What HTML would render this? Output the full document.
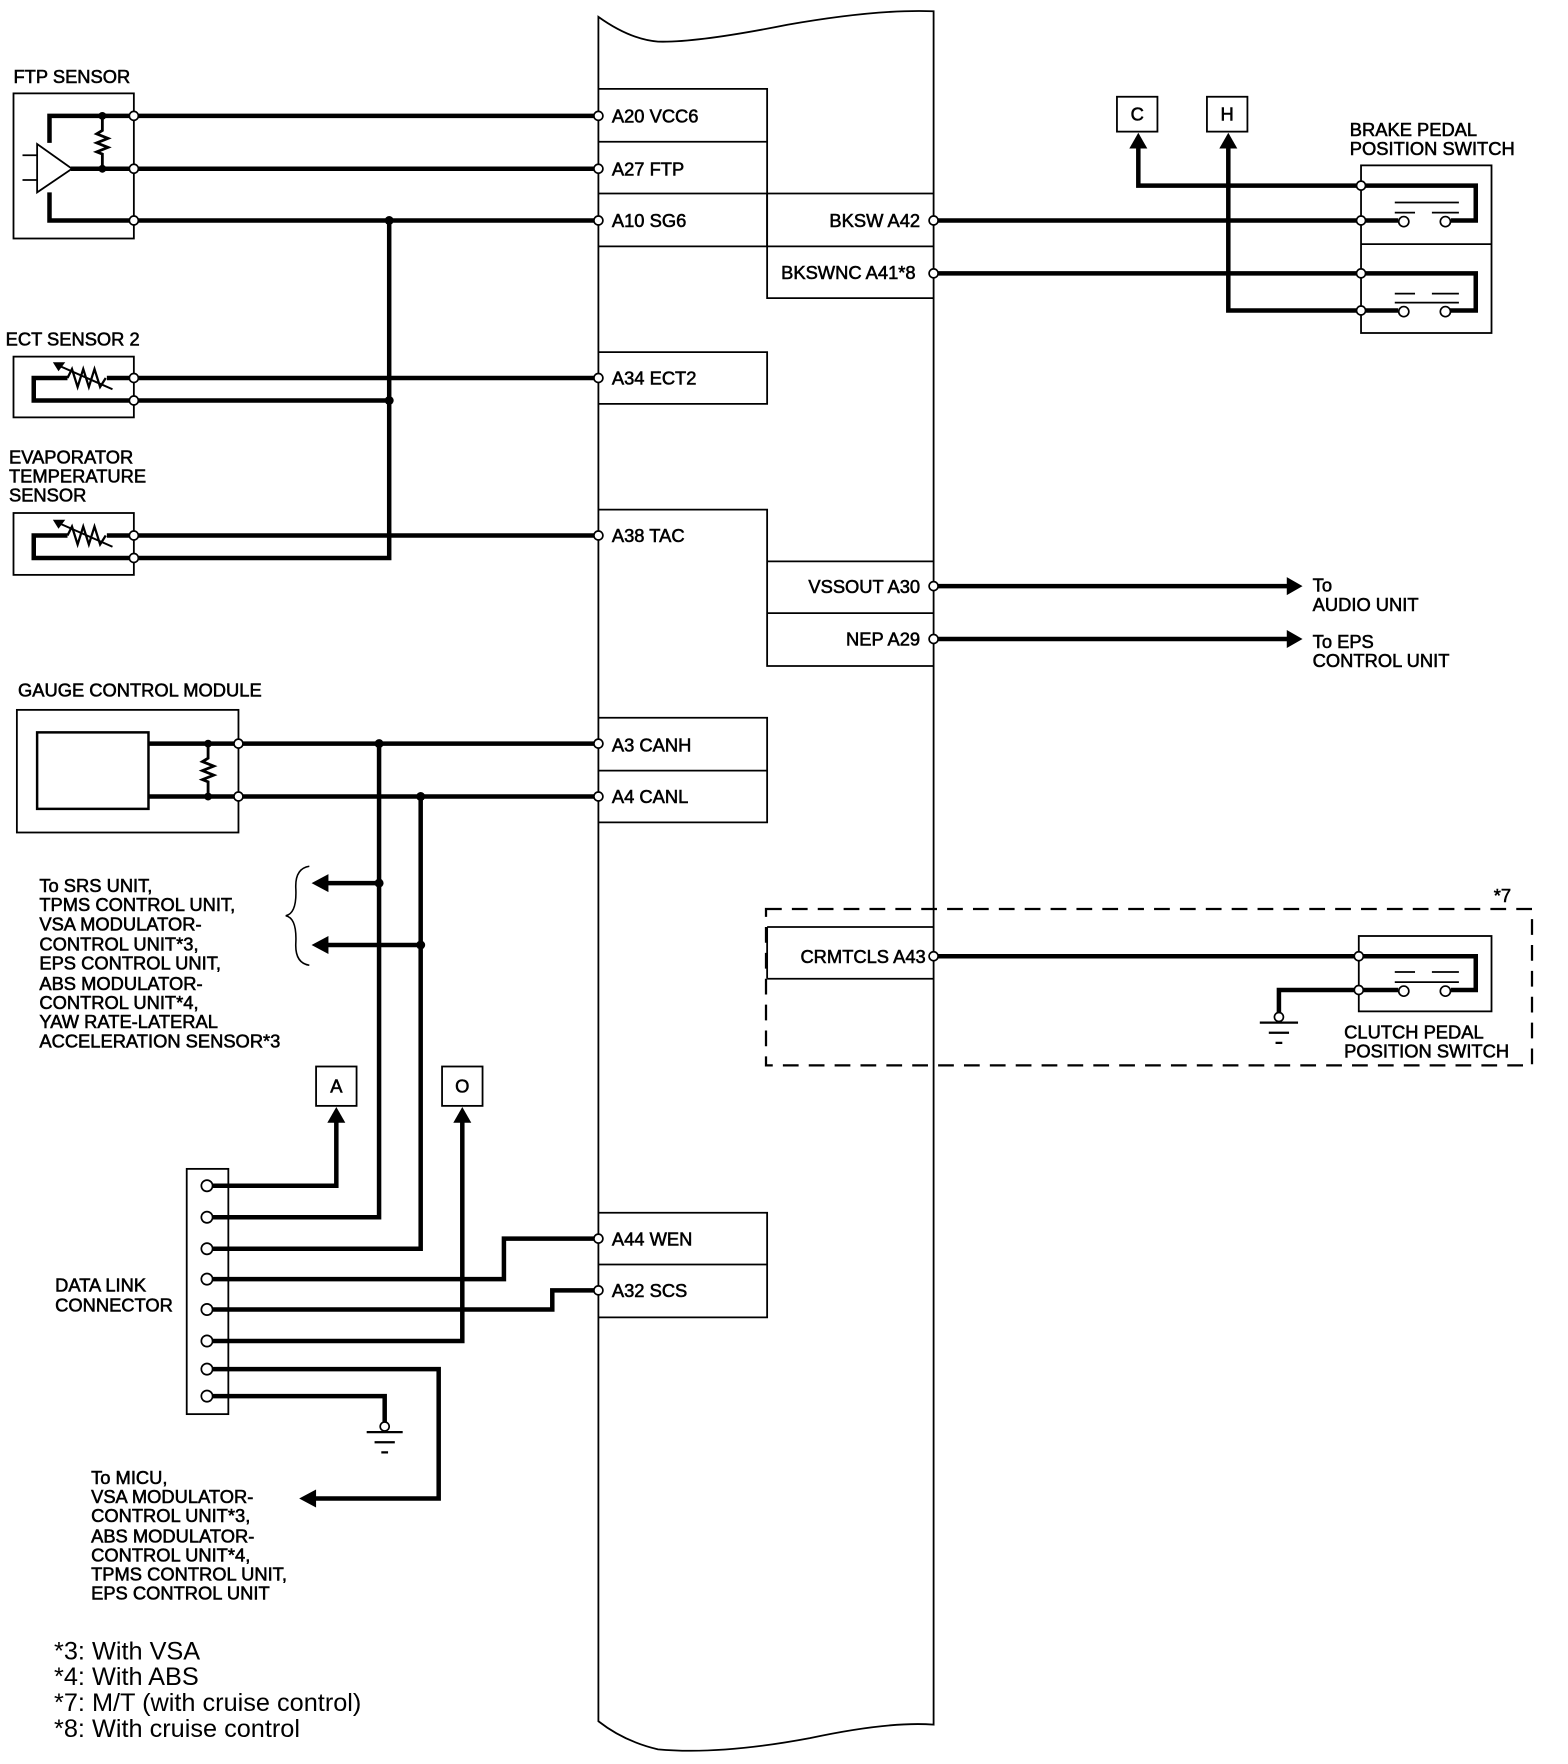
<!DOCTYPE html>
<html><head><meta charset="utf-8"><style>
html,body{margin:0;padding:0;background:#fff;}
svg{display:block}
text{font-family:"Liberation Sans",sans-serif;font-size:16.3px;fill:#000;stroke:#000;stroke-width:0.5}
.fn{font-size:22.5px;stroke-width:0}
.w{stroke:#000;stroke-width:4;fill:none}
.t{stroke:#000;stroke-width:1.6;fill:none}
.p{fill:#fff;stroke:#000;stroke-width:1.5}
.d{fill:#000}
</style></head><body>
<svg width="1568" height="1764" viewBox="0 0 1394 1568" preserveAspectRatio="none" xmlns="http://www.w3.org/2000/svg">
<!-- ECM body -->
<path class="t" d="M532,15 Q560,35 585,37 Q620,38 700,22 Q780,8 830,10 L830,1533 Q790,1530 720,1545 Q640,1560 585,1555 Q555,1548 532,1530 Z"/>
<!-- left pin boxes -->
<path class="t" d="M532,79 H682 V219 M532,126 H682 M532,172 H830 M532,219 H682"/>
<path class="t" d="M682,172 V265 H830 M682,219 H830"/>
<path class="t" d="M532,313 H682 V359 H532"/>
<path class="t" d="M532,453 H682 V499 H830 M682,499 V592 H830 M682,545 H830"/>
<path class="t" d="M532,638 H682 V731 H532 M532,685 H682"/>
<path class="t" d="M532,1078 H682 V1171 H532 M532,1124 H682"/>
<path class="t" d="M682,824 V870 M682,824 H830 M682,870 H830"/>
<!-- labels in ECM -->
<text x="544" y="109">A20 VCC6</text>
<text x="544" y="156">A27 FTP</text>
<text x="544" y="202">A10 SG6</text>
<text x="544" y="342">A34 ECT2</text>
<text x="544" y="482">A38 TAC</text>
<text x="544" y="668">A3 CANH</text>
<text x="544" y="714">A4 CANL</text>
<text x="544" y="1107">A44 WEN</text>
<text x="544" y="1153">A32 SCS</text>
<text x="818" y="202" text-anchor="end">BKSW A42</text>
<text x="814" y="248" text-anchor="end">BKSWNC A41*8</text>
<text x="818" y="527" text-anchor="end">VSSOUT A30</text>
<text x="818" y="574" text-anchor="end">NEP A29</text>
<text x="823" y="856" text-anchor="end">CRMTCLS A43</text>

<!-- FTP sensor -->
<text x="12" y="74">FTP SENSOR</text>
<rect class="t" x="12" y="83" width="107" height="129"/>
<path class="w" d="M119,103 H44 V127 M63,150 H119 M44,171 V196 H532"/>
<path class="w" d="M119,103 H532 M119,150 H532"/>
<polygon class="t" points="33,128 33,171 64,150" style="fill:#fff"/>
<path class="t" d="M20,138 H33 M20,160 H33"/>
<path class="t" d="M91,103 V116 L86,119 L96,123 L86,127 L96,131 L86,135 L91,137 V150" style="stroke-width:2.5"/>
<circle class="d" cx="91" cy="103" r="3.5"/><circle class="d" cx="91" cy="150" r="3.5"/>
<!-- ECT sensor 2 -->
<text x="5" y="307">ECT SENSOR 2</text>
<rect class="t" x="12" y="317" width="107" height="54"/>
<path class="w" d="M119,336 H95 M60,336 H30 V356 H346"/>
<path class="t" d="M60,336 L64,328 L69,344 L74,328 L79,344 L84,328 L89,344 L94,336" style="stroke-width:2"/>
<path class="t" d="M50,324 L100,346" style="stroke-width:1.8"/><polygon points="47,322 58,322 52,330" class="d"/>
<path class="w" d="M119,336 H532"/>
<!-- Evap sensor -->
<text x="8" y="412">EVAPORATOR</text><text x="8" y="429">TEMPERATURE</text><text x="8" y="446">SENSOR</text>
<rect class="t" x="12" y="456" width="107" height="55"/>
<path class="w" d="M119,476 H95 M60,476 H30 V496 H346 V196"/>
<path class="t" d="M60,476 L64,468 L69,484 L74,468 L79,484 L84,468 L89,484 L94,476" style="stroke-width:2"/>
<path class="t" d="M50,464 L100,486" style="stroke-width:1.8"/><polygon points="47,462 58,462 52,470" class="d"/>
<path class="w" d="M119,476 H532"/>
<circle class="d" cx="346" cy="196" r="4"/><circle class="d" cx="346" cy="356" r="4"/>
<circle class="p" cx="119" cy="103" r="4"/><circle class="p" cx="119" cy="150" r="4"/><circle class="p" cx="119" cy="196" r="4"/>
<circle class="p" cx="119" cy="336" r="4"/><circle class="p" cx="119" cy="356" r="4"/>
<circle class="p" cx="119" cy="476" r="4"/><circle class="p" cx="119" cy="496" r="4"/>

<!-- Gauge control module -->
<text x="16" y="619">GAUGE CONTROL MODULE</text>
<rect class="t" x="15" y="631" width="197" height="109"/>
<rect class="t" x="33" y="651" width="99" height="68" style="stroke-width:2.2"/>
<path class="w" d="M132,661 H532 M132,708 H532"/>
<path class="t" d="M185,661 V674 L180,677 L190,681 L180,685 L190,689 L180,693 L185,695 V708" style="stroke-width:2.5"/>
<circle class="d" cx="185" cy="661" r="3.5"/><circle class="d" cx="185" cy="708" r="3.5"/>
<path class="w" d="M337,661 V1082 H184 M374,708 V1110 H184"/>
<circle class="d" cx="337" cy="661" r="4"/><circle class="d" cx="374" cy="708" r="4"/>
<circle class="d" cx="337" cy="785" r="4"/><circle class="d" cx="374" cy="840" r="4"/>
<path class="w" d="M290,785 H337 M290,840 H374"/>
<polygon class="d" points="277,785 292,777 292,793"/><polygon class="d" points="277,840 292,832 292,848"/>
<path class="t" d="M275,770 Q262,772 263,790 Q264,812 254,814 Q264,816 263,838 Q262,856 275,858" style="stroke-width:1.4"/>
<text x="35" y="793">To SRS UNIT,</text>
<text x="35" y="810">TPMS CONTROL UNIT,</text>
<text x="35" y="827">VSA MODULATOR-</text>
<text x="35" y="845">CONTROL UNIT*3,</text>
<text x="35" y="862">EPS CONTROL UNIT,</text>
<text x="35" y="880">ABS MODULATOR-</text>
<text x="35" y="897">CONTROL UNIT*4,</text>
<text x="35" y="914">YAW RATE-LATERAL</text>
<text x="35" y="931">ACCELERATION SENSOR*3</text>
<circle class="p" cx="212" cy="661" r="4"/><circle class="p" cx="212" cy="708" r="4"/>

<!-- A / O boxes -->
<rect class="t" x="281" y="948" width="36" height="35"/><text x="299" y="971" text-anchor="middle">A</text>
<rect class="t" x="393" y="948" width="36" height="35"/><text x="411" y="971" text-anchor="middle">O</text>
<path class="w" d="M184,1054 H299 V996 M184,1192 H411 V996"/>
<polygon class="d" points="299,984 291,998 307,998"/><polygon class="d" points="411,984 403,998 419,998"/>
<!-- DLC -->
<rect class="t" x="166" y="1039" width="37" height="218"/>
<text x="49" y="1148">DATA LINK</text><text x="49" y="1166">CONNECTOR</text>
<path class="w" d="M184,1137 H448 V1101 H532 M184,1164 H491 V1147 H532 M184,1217 H390 V1332 H280 M184,1241 H342 V1265"/>
<polygon class="d" points="266,1332 281,1324 281,1340"/>
<circle class="p" cx="342" cy="1268" r="4"/>
<path class="t" d="M326,1273 H358 M333,1282 H351 M339,1291 H345" style="stroke-width:2"/>
<circle class="p" cx="184" cy="1054" r="5"/><circle class="p" cx="184" cy="1082" r="5"/><circle class="p" cx="184" cy="1110" r="5"/>
<circle class="p" cx="184" cy="1137" r="5"/><circle class="p" cx="184" cy="1164" r="5"/><circle class="p" cx="184" cy="1192" r="5"/>
<circle class="p" cx="184" cy="1217" r="5"/><circle class="p" cx="184" cy="1241" r="5"/>
<text x="81" y="1319">To MICU,</text>
<text x="81" y="1336">VSA MODULATOR-</text>
<text x="81" y="1353">CONTROL UNIT*3,</text>
<text x="81" y="1371">ABS MODULATOR-</text>
<text x="81" y="1388">CONTROL UNIT*4,</text>
<text x="81" y="1405">TPMS CONTROL UNIT,</text>
<text x="81" y="1422">EPS CONTROL UNIT</text>
<text class="fn" x="48" y="1475">*3: With VSA</text>
<text class="fn" x="48" y="1498">*4: With ABS</text>
<text class="fn" x="48" y="1521">*7: M/T (with cruise control)</text>
<text class="fn" x="48" y="1544">*8: With cruise control</text>

<!-- Right: brake switch -->
<rect class="t" x="993" y="86" width="36" height="31"/><text x="1011" y="107" text-anchor="middle">C</text>
<rect class="t" x="1073" y="86" width="36" height="31"/><text x="1091" y="107" text-anchor="middle">H</text>
<path class="w" d="M1012,130 V165 H1312 V196 H1290 M1092,130 V276 H1243 M1282,276 H1312 V243 H830 M830,196 H1243"/>
<polygon class="d" points="1012,118 1004,132 1020,132"/><polygon class="d" points="1092,118 1084,132 1100,132"/>
<text x="1200" y="121">BRAKE PEDAL</text><text x="1200" y="138">POSITION SWITCH</text>
<rect class="t" x="1210" y="147" width="116" height="149"/>
<path class="t" d="M1210,217 H1326"/>
<path class="t" d="M1240,180 H1297 M1240,189 H1258 M1273,189 H1297 M1240,261 H1258 M1273,261 H1297 M1240,269 H1297" style="stroke-width:1.5"/>
<circle class="p" cx="1248" cy="197" r="4.5"/><circle class="p" cx="1285" cy="197" r="4.5"/>
<circle class="p" cx="1248" cy="277" r="4.5"/><circle class="p" cx="1285" cy="277" r="4.5"/>
<circle class="p" cx="1210" cy="165" r="4"/><circle class="p" cx="1210" cy="196" r="4"/>
<circle class="p" cx="1210" cy="243" r="4"/><circle class="p" cx="1210" cy="276" r="4"/>

<!-- VSSOUT / NEP -->
<path class="w" d="M830,521 H1145 M830,568 H1145"/>
<polygon class="d" points="1158,521 1144,513 1144,529"/><polygon class="d" points="1158,568 1144,560 1144,576"/>
<text x="1167" y="526">To</text><text x="1167" y="543">AUDIO UNIT</text>
<text x="1167" y="576">To EPS</text><text x="1167" y="593">CONTROL UNIT</text>

<!-- Clutch dashed region -->
<rect x="681" y="808" width="681" height="139" fill="none" stroke="#000" stroke-width="2" stroke-dasharray="14,9"/>
<text x="1328" y="802">*7</text>
<path class="w" d="M830,850 H1312 V880 H1290 M1243,880 H1137 V902"/>
<rect class="t" x="1208" y="832" width="118" height="67"/>
<path class="t" d="M1240,864 H1258 M1273,864 H1297 M1240,873 H1297" style="stroke-width:1.5"/>
<circle class="p" cx="1248" cy="881" r="4.5"/><circle class="p" cx="1285" cy="881" r="4.5"/>
<circle class="p" cx="1137" cy="904" r="4"/>
<path class="t" d="M1120,909 H1154 M1128,918 H1146 M1134,927 H1140" style="stroke-width:2"/>
<circle class="p" cx="1208" cy="850" r="4"/><circle class="p" cx="1208" cy="880" r="4"/>
<text x="1195" y="923">CLUTCH PEDAL</text><text x="1195" y="940">POSITION SWITCH</text>

<!-- ECM pin circles -->
<g>
<circle class="p" cx="532" cy="103" r="4"/><circle class="p" cx="532" cy="150" r="4"/><circle class="p" cx="532" cy="196" r="4"/>
<circle class="p" cx="532" cy="336" r="4"/><circle class="p" cx="532" cy="476" r="4"/>
<circle class="p" cx="532" cy="661" r="4"/><circle class="p" cx="532" cy="708" r="4"/>
<circle class="p" cx="532" cy="1101" r="4"/><circle class="p" cx="532" cy="1147" r="4"/>
<circle class="p" cx="830" cy="196" r="4"/><circle class="p" cx="830" cy="243" r="4"/>
<circle class="p" cx="830" cy="521" r="4"/><circle class="p" cx="830" cy="568" r="4"/><circle class="p" cx="830" cy="850" r="4"/>
</g>
</svg>
</body></html>
